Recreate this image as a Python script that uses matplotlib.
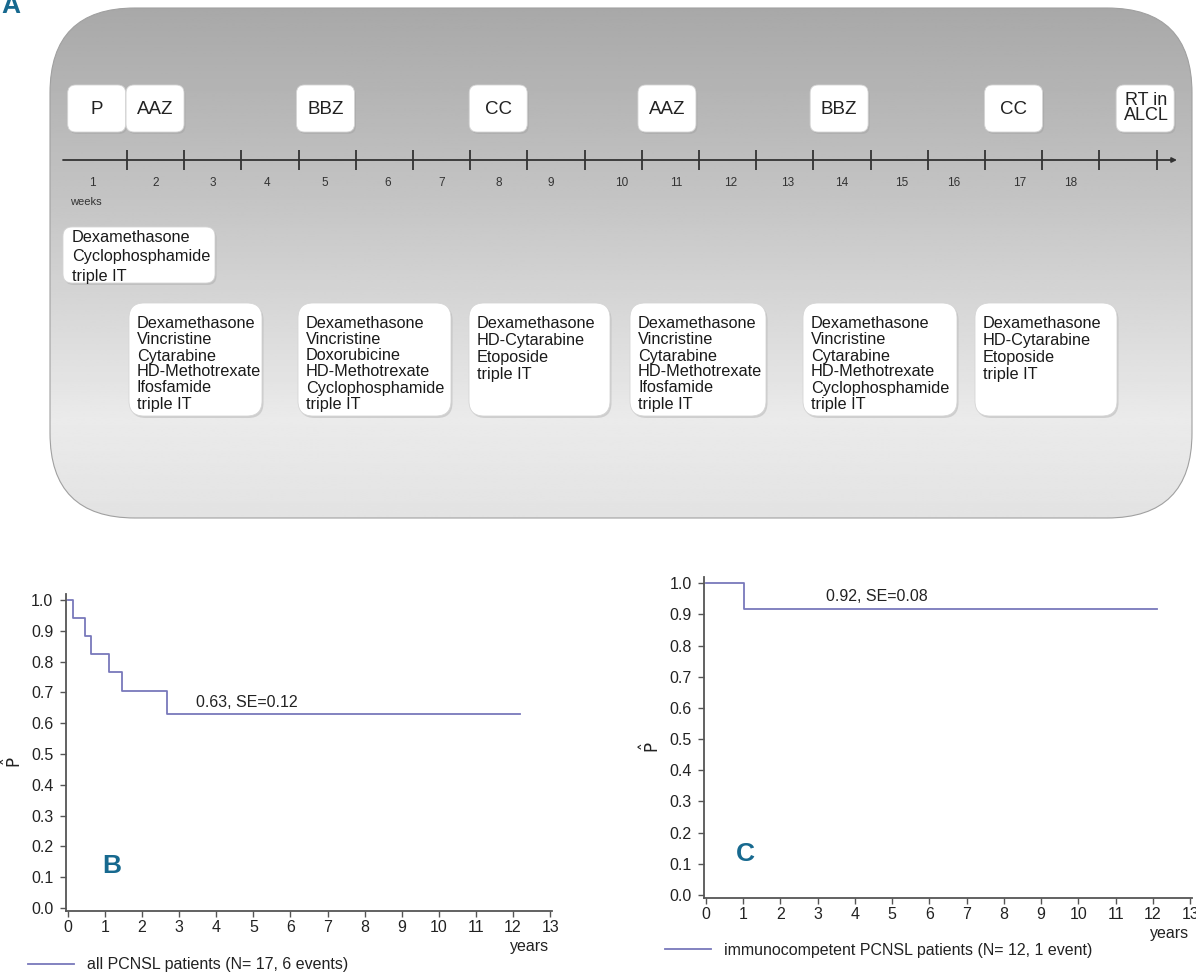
import numpy as np
import matplotlib.pyplot as plt
from matplotlib.patches import FancyBboxPatch
from matplotlib.lines import Line2D

plt.rcParams['font.family'] = ['Liberation Sans', 'DejaVu Sans']
TEAL = '#17698f'
KM_COLOR = '#7878bb'

W, H = 1196, 974

# ---- panel A: treatment schedule ----
block_labels = ['P', 'AAZ', 'BBZ', 'CC', 'AAZ', 'BBZ', 'CC', 'RT in\nALCL']
block_weeks = [0.97, 1.99, 4.97, 7.99, 10.94, 13.95, 17.0, 19.3]

week_numbers = list(range(1, 19))
week_label_x = [0.9, 2.0, 3.0, 3.95, 4.95, 6.05, 7.0, 8.0, 8.9,
                10.15, 11.1, 12.05, 13.05, 14.0, 15.05, 15.95, 17.1, 18.0]
week_boundaries = np.arange(1.5, 20.0, 1.0)

pre_phase = ['Dexamethasone', 'Cyclophosphamide', 'triple IT']
cycle_drugs = [
    ['Dexamethasone', 'Vincristine', 'Cytarabine', 'HD-Methotrexate', 'Ifosfamide', 'triple IT'],
    ['Dexamethasone', 'Vincristine', 'Doxorubicine', 'HD-Methotrexate', 'Cyclophosphamide', 'triple IT'],
    ['Dexamethasone', 'HD-Cytarabine', 'Etoposide', 'triple IT'],
    ['Dexamethasone', 'Vincristine', 'Cytarabine', 'HD-Methotrexate', 'Ifosfamide', 'triple IT'],
    ['Dexamethasone', 'Vincristine', 'Cytarabine', 'HD-Methotrexate', 'Cyclophosphamide', 'triple IT'],
    ['Dexamethasone', 'HD-Cytarabine', 'Etoposide', 'triple IT'],
]
cycle_box_x = [(129, 262), (298, 451), (469, 610), (630, 766), (803, 957), (975, 1117)]

# ---- panels B and C: Kaplan-Meier curves ----
b_time = [0, 0.15, 0.45, 0.63, 1.1, 1.45, 2.68, 12.2]
b_surv = [1.0, 0.941, 0.882, 0.824, 0.765, 0.706, 0.63, 0.63]
c_time = [0, 1.03, 12.1]
c_surv = [1.0, 0.917, 0.917]


def week_px(w):
    return 127 + 57.2 * (w - 1.5)


fig = plt.figure(figsize=(W / 100, H / 100), dpi=100)
ax_a = fig.add_axes([0, 0, 1, 1])
ax_a.axis('off')

# grey rounded background with vertical gradient
bg = FancyBboxPatch((50, 8), 1142, 510, boxstyle='round,pad=0,rounding_size=85',
                    fc='none', ec='#a0a0a0', lw=0.8, zorder=1)
ax_a.add_patch(bg)
ys = np.linspace(8, 518, 256)
shade = np.interp(ys, [8, 200, 420, 518], [0.66, 0.77, 0.92, 0.89])
im = ax_a.imshow(np.repeat(shade[:, None], 2, axis=1), cmap='gray', vmin=0, vmax=1,
                 extent=(50, 1192, 518, 8), aspect='auto', zorder=0)
im.set_clip_path(bg)


def white_box(x0, y0, x1, y1, r):
    ax_a.add_patch(FancyBboxPatch((x0 + 1.5, y0 + 2), x1 - x0, y1 - y0,
                                  boxstyle=f'round,pad=0,rounding_size={r}',
                                  fc='#9a9a9a', ec='none', alpha=0.35, zorder=2))
    ax_a.add_patch(FancyBboxPatch((x0, y0), x1 - x0, y1 - y0,
                                  boxstyle=f'round,pad=0,rounding_size={r}',
                                  fc='white', ec='#d5d5d5', lw=0.6, zorder=3))


# block boxes above the timeline
for lab, wk in zip(block_labels, block_weeks):
    cx = week_px(wk)
    white_box(cx - 29, 85, cx + 29, 132, 8)
    if '\n' in lab:
        ax_a.text(cx + 1, 108, lab, ha='center', va='center', fontsize=13,
                  linespacing=0.8, color='#222', zorder=4)
    else:
        ax_a.text(cx, 109, lab, ha='center', va='center', fontsize=13.5,
                  color='#222', zorder=4)

# timeline
ax_a.annotate('', xy=(1177, 160), xytext=(63, 160),
              arrowprops=dict(arrowstyle='-|>', color='#333', lw=1.3,
                              mutation_scale=7, shrinkA=0, shrinkB=0), zorder=4)
ax_a.vlines([week_px(b) for b in week_boundaries], 150, 170, color='#333', lw=1.3, zorder=4)
for n, wx in zip(week_numbers, week_label_x):
    ax_a.text(week_px(wx), 183, str(n), ha='center', va='center', fontsize=8.5,
              color='#333', zorder=4)
ax_a.text(86, 202, 'weeks', ha='center', va='center', fontsize=8, color='#333', zorder=4)

# pre-phase box
white_box(63, 227, 215, 283, 9)
for i, d in enumerate(pre_phase):
    ax_a.text(72, 238 + i * 19, d, ha='left', va='center', fontsize=11.7,
              color='#1a1a1a', zorder=4)

# cycle boxes
for (x0, x1), drugs in zip(cycle_box_x, cycle_drugs):
    white_box(x0, 303, x1, 416, 15)
    step = 16 if len(drugs) > 4 else 16.8
    for i, d in enumerate(drugs):
        ax_a.text(x0 + 8, 324 + i * step, d, ha='left', va='center', fontsize=11.7,
                  color='#1a1a1a', zorder=4)

ax_a.text(1, -6, 'A', ha='left', va='top', fontsize=19, fontweight='bold',
          color=TEAL, zorder=5)
ax_a.set_xlim(0, W)
ax_a.set_ylim(H, 0)


def km_panel(px_box, times, surv, note, note_xy, letter, letter_xy, legend_label,
             legend_xy, ylabel_px):
    left, right, top, bottom = px_box
    ax = fig.add_axes([left / W, 1 - bottom / H, (right - left) / W, (bottom - top) / H])
    ax.step(times, surv, where='post', color=KM_COLOR, lw=1.3)
    ax.set_xlim(-0.05, 13.05)
    ax.set_ylim(-0.01, 1.02)
    ax.set_xticks(range(14))
    yt = np.round(np.arange(0, 1.01, 0.1), 1)
    ax.set_yticks(yt)
    ax.set_yticklabels([f'{v:.1f}' for v in yt])
    for s in ['top', 'right']:
        ax.spines[s].set_visible(False)
    for s in ['left', 'bottom']:
        ax.spines[s].set_color('#555')
        ax.spines[s].set_linewidth(1.3)
    ax.tick_params(direction='out', length=4, width=1, color='#555',
                   labelsize=11.5, labelcolor='#222')
    ax.tick_params(axis='x', pad=2.5)
    ax.tick_params(axis='y', pad=5)
    ax.text(note_xy[0], note_xy[1], note, fontsize=11.5, color='#222', va='center')
    ax.text(letter_xy[0], letter_xy[1], letter, fontsize=19, fontweight='bold',
            color=TEAL, ha='center', va='center')
    ax.text(12.45, -0.125, 'years', fontsize=11.5, color='#222', ha='center',
            va='center', clip_on=False)
    ax.set_ylabel(r'$\hat{\mathsf{P}}$', fontsize=12, color='#222', rotation=90)
    ax.yaxis.set_label_coords((ylabel_px - left) / (right - left), 0.47)
    h = Line2D([], [], color=KM_COLOR, lw=1.3)
    ax.legend([h], [legend_label], loc='center left',
              bbox_to_anchor=(legend_xy[0] / W, 1 - legend_xy[1] / H),
              bbox_transform=fig.transFigure, frameon=False, fontsize=11.5,
              handlelength=2.9, handletextpad=0.8, borderpad=0, borderaxespad=0,
              labelcolor='#222')
    return ax


km_panel((66, 552, 594, 911), b_time, b_surv, '0.63, SE=0.12', (3.46, 0.668),
         'B', (1.19, 0.135), 'all PCNSL patients (N= 17, 6 events)', (28, 965), 24)
km_panel((704, 1192, 577, 898), c_time, c_surv, '0.92, SE=0.08', (3.22, 0.957),
         'C', (1.05, 0.13), 'immunocompetent PCNSL patients (N= 12, 1 event)', (665, 950), 662)

fig.savefig('out.png', dpi=100)
